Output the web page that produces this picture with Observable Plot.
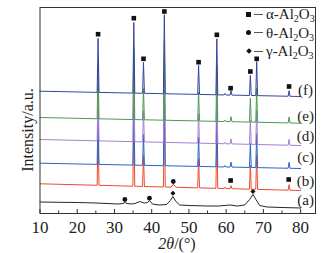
<!DOCTYPE html>
<html>
<head>
<meta charset="utf-8">
<script src="https://cdn.jsdelivr.net/npm/d3@7"></script>
<script src="https://cdn.jsdelivr.net/npm/@observablehq/plot@0.6"></script>
<style>
  html, body { margin: 0; padding: 0; background: #fff; }
  #wrap { position: relative; width: 332px; height: 253px; font-family: "Liberation Serif", "Times New Roman", serif; color: #222; }
  #wrap svg { display: block; }
  .legend { position: absolute; left: 244px; top: 5px; font-size: 15px; line-height: 18.5px; }
  .row { display: flex; align-items: center; white-space: nowrap; height: 18.5px; }
  .sym { width: 9px; display: inline-flex; justify-content: center; align-items: center; }
  .sq { width: 5px; height: 5px; background: #111; }
  .ci { width: 5px; height: 5px; background: #111; border-radius: 50%; }
  .di { width: 4px; height: 4px; background: #111; transform: rotate(45deg); }
  .dash { width: 9px; height: 1px; background: #555; margin: 0 3px 0 1px; }
  sub { font-size: 10px; vertical-align: -3px; line-height: 0; }
  .xlabel { position: absolute; left: 0; width: 354px; top: 236px; text-align: center; font-size: 16px; line-height: 15px; }
  .ylabel { position: absolute; left: 28px; top: 130px; font-size: 16px; line-height: 16px; transform: translate(-50%, -50%) rotate(-90deg); white-space: nowrap; }
</style>
</head>
<body>
<div id="wrap"></div>
<script>
// ---- data (2θ in degrees, intensity in arbitrary units) ----
const sampleNames = ["(a)", "(b)", "(c)", "(d)", "(e)", "(f)"];
const sampleColors = ["#262626", "#ee4a30", "#2c63c8", "#a57fd5", "#4e9a4e", "#34459c"];

// sample (a): broad γ/θ pattern, read point by point
const aX = [10, 15, 20, 25, 28, 31, 32.3, 32.8, 33.4, 34.5, 35.5, 36.8, 38, 38.9, 39.4, 40.2, 42, 44, 45, 45.7, 46.5, 47.5, 50, 55, 58, 61, 63, 65, 66.3, 67.2, 68, 69, 71, 75, 80];
const aY = [11.5, 11.2, 11, 10.5, 10, 9.5, 10, 11, 10, 9.5, 10, 12, 10.5, 11, 13, 9.5, 8.5, 9, 13, 17, 12, 8.5, 8, 7.5, 7.5, 8.5, 7.5, 8.5, 14, 19, 14, 8, 6.5, 6, 5.5];

// samples (b)-(f): baselines at 10° and 80°
const baseLeft  = [null, 29.7, 50.3, 74, 96, 122.3];
const baseRight = [null, 23, 45, 68, 90.3, 117];

// α-Al2O3 reflections and peak heights above baseline
const alphaPeaks = [25.6, 35.2, 37.8, 43.4, 52.6, 57.5, 59.7, 61.3, 66.5, 68.2, 76.9];
const heightsB = [54, 70.6, 31, 79, 29, 56, 1.5, 3, 24, 34, 5.5];
const heightsC = [54, 70.6, 31, 79, 29, 56, 1.5, 5, 24, 34, 6];
const heightsD = [54, 70.6, 31, 79, 29, 56, 1.5, 5, 24, 34, 6];
const heightsE = [54, 70.6, 31, 79, 29, 56, 1.5, 5, 24, 34, 6];
const heightsF = [54, 70.6, 31, 79, 29, 56, 1.5, 4.5, 20, 34, 5.5];
const peakHeights = [null, heightsB, heightsC, heightsD, heightsE, heightsF];

// residual θ bump in (b)
const bBumpX = [45.2, 45.8, 46.6];
const bBumpH = [0, 3, 0];

// phase markers
const alphaMarkX = [25.6, 35.2, 37.8, 43.4, 52.6, 57.5, 61.2, 66.5, 68.2, 76.9, 61.2, 76.8];
const alphaMarkY = [179.3, 195.3, 154.7, 202, 151.3, 178.7, 125.3, 142, 154.7, 127, 33, 34];
const thetaMarkX = [32.8, 39.4, 45.8];
const thetaMarkY = [14, 15.3, 32];
const gammaMarkX = [45.7, 67.2];
const gammaMarkY = [20.3, 22];

// panel label heights
const panelLabelY = [13, 32, 56, 77, 97, 123.7];

const majorTicks = [10, 20, 30, 40, 50, 60, 70, 80];
const minorTicks = [15, 25, 35, 45, 55, 65, 75];

// ---- build tables ----
const traces = sampleNames.map((name, i) => {
  if (i === 0) return aX.map((x, k) => ({x, y: aY[k]}));
  const bl = baseLeft[i], br = baseRight[i];
  const base = x => bl + (br - bl) * (x - 10) / 70;
  const pts = [{x: 10, y: bl}, {x: 80, y: br}];
  alphaPeaks.forEach((p, k) => {
    const h = peakHeights[i][k];
    pts.push({x: p - 0.25, y: base(p - 0.25)});
    pts.push({x: p, y: base(p) + h});
    pts.push({x: p + 0.25, y: base(p + 0.25)});
  });
  if (i === 1) bBumpX.forEach((x, k) => pts.push({x, y: base(x) + bBumpH[k]}));
  pts.sort((a, b) => a.x - b.x);
  return pts;
});

const alphaMarks = alphaMarkX.map((x, k) => ({x, y: alphaMarkY[k]}));
const thetaMarks = thetaMarkX.map((x, k) => ({x, y: thetaMarkY[k]}));
const gammaMarks = gammaMarkX.map((x, k) => ({x, y: gammaMarkY[k]}));
const panelLabels = sampleNames.map((t, i) => ({t, y: panelLabelY[i]}));

const chart = Plot.plot({
  width: 332,
  height: 253,
  marginLeft: 39.5,
  marginRight: 17,
  marginTop: 7,
  marginBottom: 40,
  style: {fontFamily: "'Liberation Serif', 'Times New Roman', serif", background: "#fff", color: "#222"},
  x: {domain: [10, 84]},
  y: {domain: [0, 206], axis: null},
  marks: [
    ...traces.map((pts, i) => Plot.line(pts, {x: "x", y: "y", stroke: sampleColors[i], strokeWidth: 1})),
    Plot.dot(alphaMarks, {x: "x", y: "y", symbol: "square", r: 2.6, fill: "#111", stroke: "none"}),
    Plot.dot(thetaMarks, {x: "x", y: "y", symbol: "circle", r: 2.4, fill: "#111", stroke: "none"}),
    Plot.dot(gammaMarks, {x: "x", y: "y", symbol: "diamond2", r: 2.3, fill: "#111", stroke: "none"}),
    Plot.text(panelLabels, {x: () => 80, y: "y", text: "t", dx: 5, fontSize: 15, fill: "#222"}),
    Plot.ruleX(majorTicks, {y1: 0, y2: 4, stroke: "#333"}),
    Plot.ruleX(minorTicks, {y1: 0, y2: 2.5, stroke: "#333"}),
    Plot.frame({stroke: "#333", strokeWidth: 1}),
    Plot.axisX({ticks: majorTicks, tickSize: 0, tickPadding: 7, fontSize: 17, label: null, tickFormat: d => String(d)})
  ]
});

const wrap = document.getElementById("wrap");
wrap.appendChild(chart);

const legend = document.createElement("div");
legend.className = "legend";
legend.innerHTML =
  '<div class="row"><span class="sym"><span class="sq"></span></span><span class="dash"></span><span>α-Al<sub>2</sub>O<sub>3</sub></span></div>' +
  '<div class="row"><span class="sym"><span class="ci"></span></span><span class="dash"></span><span>θ-Al<sub>2</sub>O<sub>3</sub></span></div>' +
  '<div class="row"><span class="sym"><span class="di"></span></span><span class="dash"></span><span>γ-Al<sub>2</sub>O<sub>3</sub></span></div>';
wrap.appendChild(legend);

const xl = document.createElement("div");
xl.className = "xlabel";
xl.innerHTML = '<i>2θ</i>/(°)';
wrap.appendChild(xl);

const yl = document.createElement("div");
yl.className = "ylabel";
yl.textContent = "Intensity/a.u.";
wrap.appendChild(yl);
</script>
</body>
</html>
